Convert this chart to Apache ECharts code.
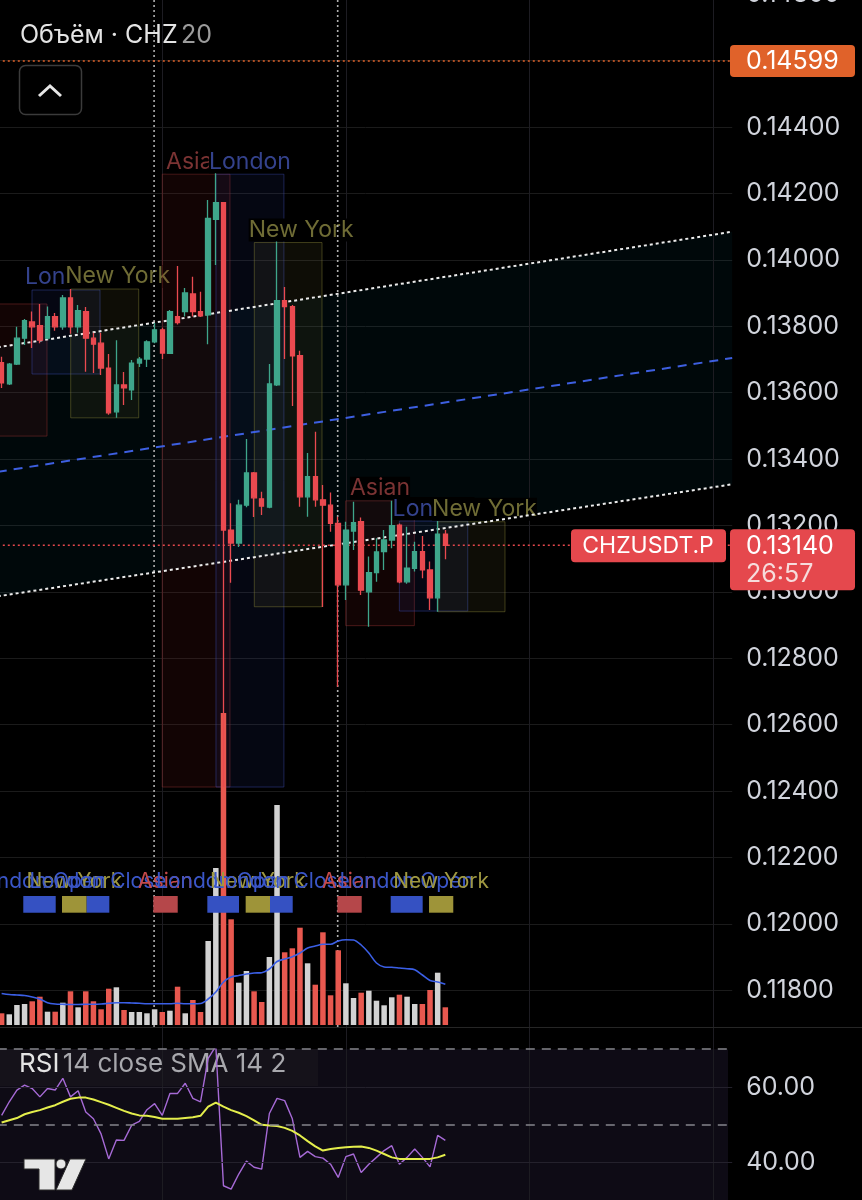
<!DOCTYPE html>
<html>
<head>
<meta charset="utf-8">
<script src="https://cdn.jsdelivr.net/npm/echarts@6/dist/echarts.min.js"></script>
<style>
  html, body { margin: 0; background: #000; }
  #chart { width: 862px; height: 1200px; }
</style>
</head>
<body>
<div id="chart"></div>
<script>
/* candles: [open, close, low, high], 1h bars */
const candles = [
  [0.13690, 0.13629, 0.13614, 0.13708], [0.13626, 0.13686, 0.13623, 0.13689],
  [0.13686, 0.13764, 0.13683, 0.13798], [0.13764, 0.13817, 0.13743, 0.13822],
  [0.13813, 0.13798, 0.13734, 0.13844], [0.13802, 0.13758, 0.13749, 0.13867],
  [0.13764, 0.13829, 0.13761, 0.13859], [0.13829, 0.13798, 0.13786, 0.13840],
  [0.13798, 0.13885, 0.13789, 0.13894], [0.13885, 0.13798, 0.13777, 0.13912],
  [0.13798, 0.13847, 0.13780, 0.13864], [0.13844, 0.13764, 0.13663, 0.13858],
  [0.13764, 0.13746, 0.13659, 0.13780], [0.13749, 0.13674, 0.13653, 0.13780],
  [0.13674, 0.13539, 0.13533, 0.13716], [0.13542, 0.13623, 0.13524, 0.13758],
  [0.13623, 0.13614, 0.13563, 0.13662], [0.13608, 0.13689, 0.13578, 0.13698],
  [0.13689, 0.13701, 0.13677, 0.13707], [0.13701, 0.13753, 0.13677, 0.13758],
  [0.13753, 0.13789, 0.13749, 0.13810], [0.13789, 0.13719, 0.13701, 0.13795],
  [0.13718, 0.13844, 0.13716, 0.13849], [0.13829, 0.13811, 0.13805, 0.13981],
  [0.13844, 0.13900, 0.13829, 0.13915], [0.13897, 0.13844, 0.13829, 0.13949],
  [0.13844, 0.13831, 0.13828, 0.13904], [0.13834, 0.14125, 0.13746, 0.14180],
  [0.14122, 0.14172, 0.13984, 0.14261], [0.14172, 0.13186, 0.12412, 0.14174],
  [0.13186, 0.13147, 0.13027, 0.13267], [0.13147, 0.13261, 0.13135, 0.13277],
  [0.13261, 0.13358, 0.13255, 0.13460], [0.13358, 0.13283, 0.13225, 0.13361],
  [0.13280, 0.13258, 0.13231, 0.13301], [0.13255, 0.13626, 0.13252, 0.13686],
  [0.13623, 0.13877, 0.13620, 0.14055], [0.13877, 0.13859, 0.13701, 0.13918],
  [0.13859, 0.13711, 0.13560, 0.13864], [0.13711, 0.13286, 0.13256, 0.13726],
  [0.13286, 0.13347, 0.13226, 0.13418], [0.13347, 0.13277, 0.13256, 0.13482],
  [0.13277, 0.13261, 0.12954, 0.13322], [0.13261, 0.13206, 0.13181, 0.13299],
  [0.13206, 0.13021, 0.12714, 0.13226], [0.13021, 0.13186, 0.12975, 0.13211],
  [0.13183, 0.13208, 0.13126, 0.13271], [0.13211, 0.13005, 0.12990, 0.13224],
  [0.13000, 0.13058, 0.12895, 0.13106], [0.13058, 0.13120, 0.13030, 0.13161],
  [0.13121, 0.13156, 0.13066, 0.13186], [0.13156, 0.13199, 0.13131, 0.13274],
  [0.13201, 0.13030, 0.13026, 0.13206], [0.13030, 0.13071, 0.13024, 0.13196],
  [0.13071, 0.13121, 0.13061, 0.13151], [0.13121, 0.13066, 0.13041, 0.13168],
  [0.13066, 0.12982, 0.12945, 0.13091], [0.12982, 0.13174, 0.12940, 0.13213],
  [0.13174, 0.13140, 0.13098, 0.13186]
];

const volumes = [11.7, 10.7, 20, 21, 23.7, 28.3, 13.3, 13.3, 22.3, 33.7,
  17.7, 33.7, 23.7, 15.7, 36.3, 37.7, 15, 13, 13, 11.7,
  15.7, 13, 14.3, 38.3, 11.7, 25, 13, 84, 157, 312,
  105.7, 42.3, 54, 33.7, 23, 68, 220, 72.7, 76.7, 97.3,
  61.7, 40.3, 92.7, 29.7, 74.7, 41.7, 27, 32.3, 34.3, 24.3,
  19.7, 27.7, 30.3, 28.3, 21, 21, 35, 52.3, 17.7];

const volumeMa = [31.5, 30.5, 30, 29.5, 28, 26, 22.3, 21, 20.7, 20.5,
  20.5, 20.7, 20.7, 21, 21.7, 22.3, 22.3, 22, 21.7, 21.3,
  21.3, 21.3, 21.3, 21.7, 21.3, 21.3, 21.5, 26, 33, 43,
  48, 49.5, 51, 52, 52.3, 56, 63.5, 66, 68.3, 72,
  77, 79, 80.7, 80.7, 84, 85.3, 85, 80, 72, 62,
  58, 57.7, 57, 56.3, 55.3, 50, 44.5, 43, 40.7];

const rsi = [52.5, 56.1, 59.2, 60.5, 59.6, 57.4, 59.6, 59.2, 62.3, 57.4,
  59.0, 53.4, 51.6, 47.6, 41.0, 46.0, 45.9, 49.9, 50.9, 54.0,
  55.6, 52.5, 58.3, 58.3, 61.0, 57.0, 56.1, 67.6, 70.8, 33.9,
  33.0, 37.0, 40.4, 38.8, 38.3, 53.0, 57.0, 56.4, 51.6, 41.4,
  43.0, 41.6, 41.2, 39.6, 36.1, 41.6, 42.3, 37.4, 39.6, 41.4,
  43.2, 44.5, 39.6, 41.4, 43.6, 41.4, 38.9, 47.2, 45.9];

const rsiSma = [50.6, 51.2, 51.8, 52.8, 53.4, 53.9, 54.6, 55.2, 56.1, 56.9,
  57.2, 57.2, 56.7, 56.0, 55.3, 54.5, 53.7, 53.0, 52.5, 52.4,
  52.1, 51.6, 51.6, 51.6, 51.8, 52.0, 52.4, 54.8, 55.9, 54.8,
  53.9, 53.2, 52.3, 51.2, 50.0, 49.8, 49.7, 49.2, 48.4, 47.2,
  45.7, 44.3, 43.2, 43.6, 43.9, 44.1, 44.2, 44.3, 43.9, 43.2,
  42.3, 41.4, 41.0, 41.0, 41.0, 41.0, 41.0, 41.4, 42.1];

// session boxes (bar index range, price range)
const sessionName = ['Asian', 'London', 'New York', 'Asian', 'London', 'New York', 'Asian', 'London', 'New York'];
const sessionLabelShown = [false, true, true, true, true, true, true, true, true];
const boxStart = [-3.0, 3.97, 9.03, 21.0, 28.02, 33.03, 44.98, 51.99, 57.04];
const boxEnd   = [5.93, 12.86, 17.92, 29.85, 36.9, 41.88, 53.95, 60.93, 65.8];
const boxHigh  = [0.13867, 0.13909, 0.13912, 0.14258, 0.14258, 0.14052, 0.13274, 0.13213, 0.13211];
const boxLow   = [0.13469, 0.13656, 0.13524, 0.12412, 0.12412, 0.12955, 0.12898, 0.12942, 0.12940];

// session markers in the volume pane
const markLabel = ['London Open', 'New York', 'London Close', 'Asian', 'London Open', 'New York', 'London Close', 'Asian', 'London Open', 'New York'];
const markStart = [2.83, 7.89, 11.12, 19.83, 26.89, 31.9, 35.08, 43.88, 50.86, 55.87];
const markEnd   = [7.07, 11.12, 14.08, 23.02, 31.03, 35.08, 38.05, 47.07, 55.04, 59.04];

// regression channel (bar index, price)
const channelX     = [-0.5, 95.5];
const channelUpper = [0.137365, 0.140846];
const channelMid   = [0.133615, 0.137042];
const channelLower = [0.129865, 0.133238];

const sessionDividers = [19.93, 43.93];
const dayLines = [21, 45, 69, 93];

const alertPrice = 0.14599;
const lastPrice = 0.13140;
const countdown = '26:57';

const SLOTS = 96;
const LEFT = -2.2, WIDTH = 734.4;
const FONT = 'Inter, Roboto, sans-serif';
const UP = '#3fa68b', DOWN = '#ea4a50';
const VOL_UP = '#d2d2d2', VOL_DOWN = '#e8584f';

const SESSION_STYLE = {
  'Asian':    { fill: 'rgba(140,30,30,0.13)', stroke: 'rgba(150,50,50,0.45)', text: '#7b3333', shift: 0 },
  'London':   { fill: 'rgba(50,70,180,0.10)', stroke: 'rgba(60,75,175,0.45)', text: '#34428c', shift: 0 },
  'New York': { fill: 'rgba(140,130,60,0.10)', stroke: 'rgba(135,130,55,0.45)', text: '#6f6c35', shift: 1.7 }
};
const MARK_COLOR = {
  'London Open': { block: '#3551c2', text: '#3a56c8' },
  'London Close': { block: '#3551c2', text: '#3a56c8' },
  'New York': { block: '#9e9439', text: '#9f9841' },
  'Asian': { block: '#b5474a', text: '#c44a4a' }
};

const cats = Array.from({ length: SLOTS }, (_, i) => String(i));
const chart = echarts.init(document.getElementById('chart'));

const priceLine = (price, color) => ({
  type: 'line', xAxisIndex: 1, yAxisIndex: 0, z: 4, symbol: 'none', silent: true,
  data: channelX.map(x => [x, price]),
  lineStyle: { color: color, width: 1.5, type: [2, 3] }
});

chart.setOption({
  backgroundColor: '#000',
  animation: false,
  grid: [
    { left: LEFT, width: WIDTH, top: -5.8, height: 1062.4, outerBoundsMode: 'none', containLabel: false },
    { left: LEFT, width: WIDTH, top: 705, height: 320, outerBoundsMode: 'none', containLabel: false },
    { left: LEFT, width: WIDTH, top: 1049.2, height: 151.3, outerBoundsMode: 'none', containLabel: false }
  ],
  xAxis: [
    { type: 'category', gridIndex: 0, data: cats, show: false },
    { type: 'value', gridIndex: 0, min: -0.5, max: SLOTS - 0.5, show: false },
    { type: 'category', gridIndex: 1, data: cats, show: false },
    { type: 'value', gridIndex: 1, min: -0.5, max: SLOTS - 0.5, show: false },
    { type: 'category', gridIndex: 2, data: cats, show: false },
    { type: 'value', gridIndex: 2, min: -0.5, max: SLOTS - 0.5, show: false }
  ],
  yAxis: [
    {
      type: 'value', gridIndex: 0, position: 'right', min: 0.116, max: 0.148, interval: 0.002,
      axisLine: { show: false }, axisTick: { show: false },
      splitLine: { show: true, showMinLine: false, showMaxLine: false, lineStyle: { color: '#1b1b1b' } },
      axisLabel: {
        margin: 14, color: '#d1d4dc', fontSize: 25, fontFamily: FONT,
        formatter: v => (v < 0.1169 ? '' : v.toFixed(5))
      }
    },
    { type: 'value', gridIndex: 1, min: 0, max: 320, show: false },
    {
      type: 'value', gridIndex: 2, position: 'right', min: 30, max: 70, interval: 10,
      axisLine: { show: false }, axisTick: { show: false }, splitLine: { show: false },
      axisLabel: {
        margin: 14, color: '#d1d4dc', fontSize: 25, fontFamily: FONT,
        formatter: v => (v === 60 || v === 40 ? v.toFixed(2) : '')
      }
    }
  ],
  series: [
    // RSI band background
    {
      type: 'custom', xAxisIndex: 5, yAxisIndex: 2, z: 0, silent: true,
      data: [[0, 70]],
      renderItem: (params, api) => {
        const top = api.coord([0, 70])[1];
        const bot = api.coord([0, 30])[1];
        return { type: 'rect', shape: { x: 0, y: top, width: 728, height: bot - top }, style: { fill: '#0e0b15' } };
      }
    },
    // daily grid lines
    {
      type: 'custom', xAxisIndex: 1, yAxisIndex: 0, z: 2, silent: true,
      data: dayLines.map(x => [x, 0.13]),
      renderItem: (params, api) => {
        const x = Math.round(api.coord([api.value(0), 0.13])[0]) + 0.5;
        return { type: 'line', shape: { x1: x, y1: 0, x2: x, y2: 1200 }, style: { stroke: '#1d1c22', lineWidth: 1 } };
      }
    },
    // channel fill
    {
      type: 'custom', xAxisIndex: 1, yAxisIndex: 0, z: 1, silent: true,
      data: [[channelX[0], channelUpper[0]]],
      renderItem: (params, api) => ({
        type: 'polygon',
        shape: { points: [
          api.coord([channelX[0], channelUpper[0]]), api.coord([channelX[1], channelUpper[1]]),
          api.coord([channelX[1], channelLower[1]]), api.coord([channelX[0], channelLower[0]])
        ] },
        style: { fill: 'rgba(0,120,140,0.07)' }
      })
    },
    // session boxes with labels
    {
      type: 'custom', xAxisIndex: 1, yAxisIndex: 0, z: 2, silent: true,
      data: sessionName.map((n, i) => [boxStart[i], boxEnd[i], boxHigh[i], boxLow[i], i]),
      renderItem: (params, api) => {
        const i = api.value(4);
        const s = SESSION_STYLE[sessionName[i]];
        const tl = api.coord([api.value(0), api.value(2)]);
        const br = api.coord([api.value(1), api.value(3)]);
        const lx = api.coord([(api.value(0) + api.value(1)) / 2 + s.shift, 0.13])[0];
        const children = [
          { type: 'rect', shape: { x: tl[0], y: tl[1], width: br[0] - tl[0], height: br[1] - tl[1] },
            style: { fill: s.fill, stroke: s.stroke, lineWidth: 1 } }
        ];
        if (sessionLabelShown[i]) {
          children.push({ type: 'text', style: { text: sessionName[i], x: lx, y: tl[1] - 1, align: 'center',
            verticalAlign: 'bottom', fill: s.text, fontSize: 23, fontFamily: FONT, backgroundColor: '#000' } });
        }
        return { type: 'group', children: children };
      }
    },
    // session dividers (dotted)
    {
      type: 'custom', xAxisIndex: 1, yAxisIndex: 0, z: 3, silent: true,
      data: sessionDividers.map(x => [x, 0.13]),
      renderItem: (params, api) => {
        const x = api.coord([api.value(0), 0.13])[0];
        return { type: 'line', shape: { x1: x, y1: 0, x2: x, y2: 1027 },
          style: { stroke: '#b0b0b0', lineWidth: 1.6, lineDash: [2, 3] } };
      }
    },
    // channel lines
    {
      type: 'line', xAxisIndex: 1, yAxisIndex: 0, z: 3, symbol: 'none', silent: true,
      data: channelX.map((x, i) => [x, channelUpper[i]]),
      lineStyle: { color: '#ececec', width: 2, type: [3, 3] }
    },
    {
      type: 'line', xAxisIndex: 1, yAxisIndex: 0, z: 3, symbol: 'none', silent: true,
      data: channelX.map((x, i) => [x, channelLower[i]]),
      lineStyle: { color: '#ececec', width: 2, type: [3, 3] }
    },
    {
      type: 'line', xAxisIndex: 1, yAxisIndex: 0, z: 3, symbol: 'none', silent: true,
      data: channelX.map((x, i) => [x, channelMid[i]]),
      lineStyle: { color: '#3d5fe0', width: 2, type: [9, 7] }
    },
    priceLine(alertPrice, '#e2632a'),
    priceLine(lastPrice, '#e5484d'),
    // volume
    {
      type: 'bar', xAxisIndex: 2, yAxisIndex: 1, z: 4, barWidth: 5.5, silent: true,
      data: volumes.map((v, i) => ({ value: v, itemStyle: { color: candles[i][1] >= candles[i][0] ? VOL_UP : VOL_DOWN } }))
    },
    {
      type: 'line', xAxisIndex: 2, yAxisIndex: 1, z: 4, symbol: 'none', silent: true, smooth: 0.3,
      data: volumeMa, lineStyle: { color: '#3b5fe6', width: 1.6 }
    },
    // candles
    {
      type: 'candlestick', xAxisIndex: 0, yAxisIndex: 0, z: 5, barWidth: 5, silent: true,
      data: candles,
      itemStyle: { color: UP, color0: DOWN, borderColor: UP, borderColor0: DOWN, borderWidth: 1.3 }
    },
    // session markers
    {
      type: 'custom', xAxisIndex: 3, yAxisIndex: 1, z: 6, silent: true,
      data: markLabel.map((n, i) => [markStart[i], markEnd[i], i]),
      renderItem: (params, api) => {
        const i = api.value(2);
        const c = MARK_COLOR[markLabel[i]];
        const a = api.coord([api.value(0), 129]);
        const b = api.coord([api.value(1), 112.3]);
        const t = api.coord([(api.value(0) + api.value(1)) / 2, 143.5]);
        return {
          type: 'group', children: [
            { type: 'rect', shape: { x: a[0], y: a[1], width: b[0] - a[0], height: b[1] - a[1] }, style: { fill: c.block } },
            { type: 'text', style: { text: markLabel[i], x: t[0], y: t[1], align: 'center', verticalAlign: 'middle',
              fill: c.text, fontSize: 21, fontFamily: FONT } }
          ]
        };
      }
    },
    // RSI
    {
      type: 'line', xAxisIndex: 4, yAxisIndex: 2, z: 4, symbol: 'none', silent: true,
      data: rsi, lineStyle: { color: '#a66ad6', width: 1.4 },
      markLine: {
        silent: true, symbol: ['none', 'none'], label: { show: false }, precision: 2,
        data: [
          { yAxis: 70, lineStyle: { color: '#85858c', width: 1.5, type: [9, 7] } },
          { yAxis: 50, lineStyle: { color: '#85858c', width: 1.5, type: [9, 7] } },
          { yAxis: 60, lineStyle: { color: '#24212c', width: 1, type: 'solid' } },
          { yAxis: 40, lineStyle: { color: '#24212c', width: 1, type: 'solid' } }
        ]
      }
    },
    {
      type: 'line', xAxisIndex: 4, yAxisIndex: 2, z: 4, symbol: 'none', silent: true,
      data: rsiSma, lineStyle: { color: '#e4ee4c', width: 2 }
    }
  ]
});

// overlay labels placed from the price scale
const yAlert = chart.convertToPixel({ yAxisIndex: 0 }, alertPrice);
const yLast = chart.convertToPixel({ yAxisIndex: 0 }, lastPrice);

chart.setOption({
  graphic: [
    { type: 'line', z: 50, shape: { x1: 0, y1: 1027.5, x2: 862, y2: 1027.5 }, style: { stroke: '#262626', lineWidth: 1 } },
    { type: 'text', z: 50, style: { x: 20, y: 35, verticalAlign: 'middle', text: '{a|Объём · CHZ} {b|20}',
      rich: { a: { fill: '#e4e4e4', fontSize: 25, fontFamily: FONT }, b: { fill: '#9b9b9b', fontSize: 25, fontFamily: FONT } } } },
    { type: 'rect', z: 50, shape: { x: 19.5, y: 65.5, width: 62, height: 49, r: 6 },
      style: { fill: '#000', stroke: '#3b3b3b', lineWidth: 1.5 } },
    { type: 'polyline', z: 51, shape: { points: [[39, 96], [50, 86], [61, 96]] },
      style: { stroke: '#e6e6e6', lineWidth: 3, fill: null } },
    // alert price label
    { type: 'rect', z: 50, shape: { x: 730, y: yAlert - 16, width: 125, height: 32, r: 4 }, style: { fill: '#e0622a' } },
    { type: 'text', z: 51, style: { x: 746, y: yAlert + 1, verticalAlign: 'middle', text: alertPrice.toFixed(5),
      fill: '#fff', fontSize: 25, fontFamily: FONT } },
    // last price labels
    { type: 'rect', z: 50, shape: { x: 571, y: yLast - 16, width: 155, height: 33, r: 4 }, style: { fill: '#e5484d' } },
    { type: 'text', z: 51, style: { x: 648, y: yLast + 1, align: 'center', verticalAlign: 'middle', text: 'CHZUSDT.P',
      fill: '#fff', fontSize: 23, fontFamily: FONT } },
    { type: 'rect', z: 50, shape: { x: 730, y: yLast - 16, width: 125, height: 61, r: 4 }, style: { fill: '#e5484d' } },
    { type: 'text', z: 51, style: { x: 746, y: yLast + 1, verticalAlign: 'middle', text: lastPrice.toFixed(5),
      fill: '#fff', fontSize: 25, fontFamily: FONT } },
    { type: 'text', z: 51, style: { x: 746, y: yLast + 29, verticalAlign: 'middle', text: countdown,
      fill: '#f6dcdc', fontSize: 25, fontFamily: FONT } },
    // RSI legend (under the RSI lines)
    { type: 'rect', z: 1, shape: { x: 0, y: 1049, width: 318, height: 37 }, style: { fill: '#15121a' } },
    { type: 'text', z: 2, style: { x: 19, y: 1064, verticalAlign: 'middle', text: '{a|RSI} {b|14 close SMA 14 2}',
      rich: { a: { fill: '#e4e4e4', fontSize: 26, fontFamily: FONT }, b: { fill: '#a8a8ad', fontSize: 26, fontFamily: FONT } } } },
    // TradingView mark
    { type: 'polygon', z: 41, shape: { points: [[24, 1159], [55, 1159], [55, 1190], [39, 1190], [39, 1169], [24, 1169]] },
      style: { fill: '#e6e6e6', stroke: '#2a2a2a', lineWidth: 1 } },
    { type: 'circle', z: 41, shape: { cx: 61, cy: 1164, r: 5 }, style: { fill: '#e6e6e6', stroke: '#2a2a2a', lineWidth: 1 } },
    { type: 'polygon', z: 41, shape: { points: [[70, 1159], [86, 1159], [72, 1190], [56, 1190]] },
      style: { fill: '#e6e6e6', stroke: '#2a2a2a', lineWidth: 1 } }
  ]
});
</script>
</body>
</html>
